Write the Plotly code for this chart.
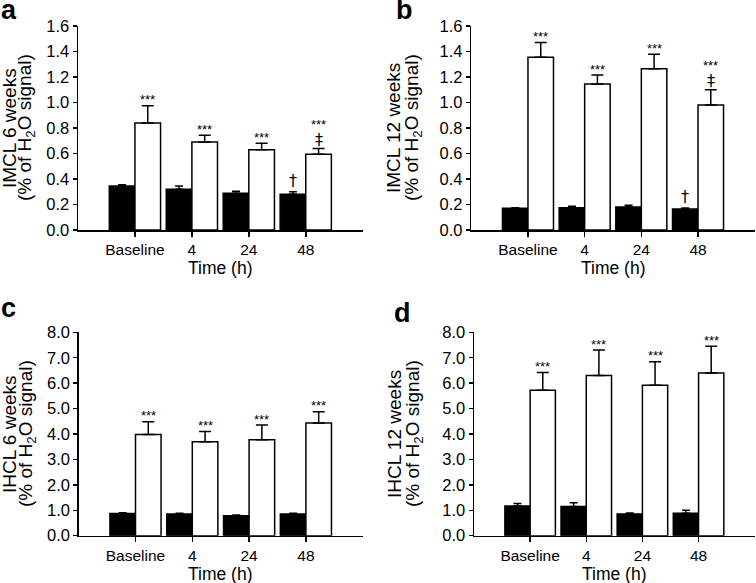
import plotly.graph_objects as go
from plotly.subplots import make_subplots

categories = ["Baseline", "4", "24", "48"]

# Panel a: IMCL 6 weeks
a_black = [0.345, 0.32, 0.288, 0.28]
a_black_err = [0.01, 0.025, 0.015, 0.02]
a_white = [0.84, 0.69, 0.63, 0.595]
a_white_err = [0.135, 0.053, 0.05, 0.045]

# Panel b: IMCL 12 weeks
b_black = [0.17, 0.175, 0.18, 0.165]
b_black_err = [0.005, 0.012, 0.015, 0.008]
b_white = [1.355, 1.145, 1.265, 0.98]
b_white_err = [0.115, 0.07, 0.113, 0.12]

# Panel c: IHCL 6 weeks
c_black = [0.87, 0.85, 0.78, 0.85]
c_black_err = [0.03, 0.03, 0.03, 0.03]
c_white = [3.98, 3.70, 3.77, 4.43]
c_white_err = [0.50, 0.40, 0.58, 0.45]

# Panel d: IHCL 12 weeks
d_black = [1.17, 1.15, 0.85, 0.88]
d_black_err = [0.10, 0.15, 0.04, 0.12]
d_white = [5.72, 6.30, 5.92, 6.40]
d_white_err = [0.70, 1.00, 0.92, 1.05]

panel_letters = ["a", "b", "c", "d"]
y_titles_line1 = ["IMCL 6 weeks", "IMCL 12 weeks", "IHCL 6 weeks", "IHCL 12 weeks"]
y_title_line2 = "(% of H<sub>2</sub>O signal)"
x_title = "Time (h)"

W, H = 756, 583
FONT = "Liberation Sans, Arial, Helvetica, sans-serif"

panels = [
    dict(black=a_black, berr=a_black_err, white=a_white, werr=a_white_err,
         yr=[0, 1.6], dt=0.2, px=(78, 362.7), py=(26, 230),
         dagger=True, letter_xy=(9, 10), t1x=9, t2x=26),
    dict(black=b_black, berr=b_black_err, white=b_white, werr=b_white_err,
         yr=[0, 1.6], dt=0.2, px=(471.3, 754.7), py=(26, 230),
         dagger=True, letter_xy=(404, 10), t1x=393, t2x=413),
    dict(black=c_black, berr=c_black_err, white=c_white, werr=c_white_err,
         yr=[0, 8], dt=1.0, px=(78.7, 362.7), py=(332.3, 535.7),
         dagger=False, letter_xy=(8, 308), t1x=9, t2x=27),
    dict(black=d_black, berr=d_black_err, white=d_white, werr=d_white_err,
         yr=[0, 8], dt=1.0, px=(474, 754.7), py=(332.3, 535.7),
         dagger=False, letter_xy=(403, 313), t1x=394, t2x=414),
]

fig = make_subplots(rows=2, cols=2)
annotations = []

for i, p in enumerate(panels):
    r, c = i // 2 + 1, i % 2 + 1
    sfx = "" if i == 0 else str(i + 1)
    fig.add_trace(go.Bar(
        x=categories, y=p["black"],
        marker=dict(color="black", line=dict(color="black", width=1.5)),
        error_y=dict(type="data", array=p["berr"], arrayminus=[0] * 4, symmetric=False,
                     color="black", thickness=1.5, width=4),
        showlegend=False), row=r, col=c)
    fig.add_trace(go.Bar(
        x=categories, y=p["white"],
        marker=dict(color="white", line=dict(color="black", width=1.5)),
        error_y=dict(type="data", array=p["werr"], arrayminus=[0] * 4, symmetric=False,
                     color="black", thickness=1.5, width=6),
        showlegend=False), row=r, col=c)

    x0, x1 = p["px"]
    ytop, ybot = p["py"]
    xd = [x0 / W, x1 / W]
    yd = [1 - ybot / H, 1 - ytop / H]
    fig.update_xaxes(domain=xd, type="category", range=[-1, 4], showline=True,
                     linecolor="black", linewidth=1.5, ticks="outside", ticklen=5,
                     tickwidth=1.5, tickcolor="black", showgrid=False, zeroline=False,
                     automargin=False,
                     tickfont=dict(size=15.5, color="black", family=FONT), row=r, col=c)
    fig.update_yaxes(domain=yd, range=p["yr"], dtick=p["dt"], tick0=0, tickformat=".1f",
                     showline=True, linecolor="black", linewidth=1.5, ticks="outside",
                     ticklen=4, tickwidth=1.5, tickcolor="black", showgrid=False,
                     zeroline=False, automargin=False,
                     tickfont=dict(size=16.5, color="black", family=FONT),
                     row=r, col=c)

    # group width in px for offsetting annotations over each bar
    gw = (x1 - x0) / 5.0
    off = 0.225 * gw
    xref, yref = "x" + sfx, "y" + sfx
    for k in range(len(categories)):
        top_w = p["white"][k] + p["werr"][k]
        is48 = p["dagger"] and k == 3
        annotations.append(dict(x=k, y=top_w, xref=xref, yref=yref, text="***",
                                showarrow=False, xshift=off, yshift=(24 if is48 else 6),
                                yanchor="middle", font=dict(size=13, color="black", family=FONT)))
        if is48:
            annotations.append(dict(x=k, y=top_w, xref=xref, yref=yref, text="‡",
                                    showarrow=False, xshift=off, yshift=9, yanchor="middle",
                                    font=dict(size=16, color="#000000", family="DejaVu Sans, Liberation Sans")))
            top_b = p["black"][k] + p["berr"][k]
            annotations.append(dict(x=k, y=top_b, xref=xref, yref=yref, text="†",
                                    showarrow=False, xshift=-off, yshift=11, yanchor="middle",
                                    font=dict(size=16, color="#000000", family="DejaVu Sans, Liberation Sans")))

    # panel letter
    lx, ly = p["letter_xy"]
    annotations.append(dict(x=lx / W, y=1 - ly / H, xref="paper", yref="paper",
                            text="<b>%s</b>" % panel_letters[i], showarrow=False,
                            xanchor="center", yanchor="middle",
                            font=dict(size=27, color="black", family=FONT)))
    # y titles (two lines)
    ymid = 1 - ((ytop + ybot) / 2) / H
    annotations.append(dict(x=p["t1x"] / W, y=ymid, xref="paper", yref="paper",
                            text=y_titles_line1[i], textangle=-90, showarrow=False,
                            xanchor="center", yanchor="middle",
                            font=dict(size=19, color="black", family=FONT)))
    annotations.append(dict(x=p["t2x"] / W, y=ymid, xref="paper", yref="paper",
                            text=y_title_line2, textangle=-90, showarrow=False,
                            xanchor="center", yanchor="middle",
                            font=dict(size=19, color="black", family=FONT)))
    # x title
    annotations.append(dict(x=(x0 + x1) / 2 / W, y=1 - (ybot + 38) / H, xref="paper", yref="paper",
                            text=x_title, showarrow=False, xanchor="center", yanchor="middle",
                            font=dict(size=17.5, color="black", family=FONT)))

fig.update_layout(
    width=W, height=H,
    margin=dict(l=0, r=0, t=0, b=0, pad=0, autoexpand=False),
    paper_bgcolor="white", plot_bgcolor="white",
    barmode="group", bargap=0.1, bargroupgap=0,
    annotations=annotations,
    font=dict(family=FONT, color="black"),
)

fig.write_html("out.html",
               config={"displayModeBar": False, "staticPlot": True},
               post_script="document.body.style.margin='0';document.body.style.overflow='hidden';")
